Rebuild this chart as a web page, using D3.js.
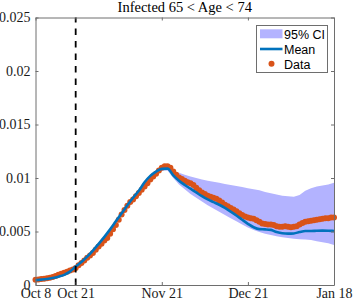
<!DOCTYPE html>
<html>
<head>
<meta charset="utf-8">
<script src="https://cdn.jsdelivr.net/npm/d3@7"></script>
<style>
  body { margin: 0; background: #fff; }
  svg { display: block; }
</style>
</head>
<body>
<script>
// days since Oct 8
const tickDays = [0, 14, 44, 74, 104];
const tickLabels = ['Oct 8', 'Oct 21', 'Nov 21', 'Dec 21', 'Jan 18'];
const yTicks = [0, 0.005, 0.01, 0.015, 0.02, 0.025];
const yTickLabels = ['0', '0.005', '0.01', '0.015', '0.02', '0.025'];
const interventionDay = 14;

// model output, every 2 days
const bandDays = d3.range(0, 105, 2);
const meanVals = [
  0.00045, 0.00050, 0.00056, 0.00065, 0.00078, 0.00095, 0.00125, 0.00172, 0.00215, 0.00265,
  0.00322, 0.00385, 0.00450, 0.00520, 0.00595, 0.00670, 0.00745, 0.00815, 0.00880, 0.00960,
  0.01020, 0.01060, 0.01085, 0.01088, 0.01025, 0.00975, 0.00935, 0.00900, 0.00865, 0.00830,
  0.00800, 0.00775, 0.00750, 0.00720, 0.00685, 0.00650, 0.00610, 0.00572, 0.00540, 0.00522,
  0.00520, 0.00515, 0.00495, 0.00483, 0.00480, 0.00482, 0.00495, 0.00505, 0.00505, 0.00507,
  0.00508, 0.00507, 0.00505
];
const upperVals = [
  0.00055, 0.00060, 0.00066, 0.00075, 0.00088, 0.00105, 0.00135, 0.00182, 0.00225, 0.00275,
  0.00332, 0.00395, 0.00460, 0.00530, 0.00605, 0.00680, 0.00755, 0.00825, 0.00890, 0.00970,
  0.01030, 0.01070, 0.01095, 0.01095, 0.01065, 0.01050, 0.01030, 0.01015, 0.01000, 0.00985,
  0.00975, 0.00965, 0.00955, 0.00945, 0.00935, 0.00925, 0.00915, 0.00905, 0.00895, 0.00885,
  0.00870, 0.00858, 0.00845, 0.00835, 0.00830, 0.00825, 0.00840, 0.00880, 0.00905, 0.00920,
  0.00930, 0.00940, 0.00955
];
const lowerVals = [
  0.00035, 0.00040, 0.00046, 0.00055, 0.00068, 0.00085, 0.00115, 0.00162, 0.00205, 0.00255,
  0.00312, 0.00375, 0.00440, 0.00510, 0.00585, 0.00660, 0.00735, 0.00805, 0.00870, 0.00950,
  0.01010, 0.01035, 0.01070, 0.01070, 0.01000, 0.00940, 0.00895, 0.00850, 0.00815, 0.00780,
  0.00745, 0.00715, 0.00685, 0.00655, 0.00625, 0.00595, 0.00565, 0.00538, 0.00513, 0.00495,
  0.00480, 0.00468, 0.00455, 0.00447, 0.00440, 0.00432, 0.00428, 0.00425, 0.00420, 0.00410,
  0.00400, 0.00390, 0.00375
];

// observed, daily
const dataDays = d3.range(0, 105);
const dataVals = [
  0.00050, 0.00052, 0.00055, 0.00058, 0.00062, 0.00068, 0.00075, 0.00085, 0.00095, 0.00105,
  0.00115, 0.00125, 0.00135, 0.00145, 0.00160, 0.00185, 0.00205, 0.00230, 0.00255, 0.00275,
  0.00300, 0.00330, 0.00360, 0.00385, 0.00415, 0.00440, 0.00480, 0.00520, 0.00560, 0.00610,
  0.00660, 0.00700, 0.00740, 0.00775, 0.00800, 0.00830, 0.00860, 0.00890, 0.00920, 0.00950,
  0.00985, 0.01015, 0.01040, 0.01070, 0.01095, 0.01110, 0.01110, 0.01095, 0.01060, 0.01030,
  0.01005, 0.00990, 0.00975, 0.00960, 0.00950, 0.00935, 0.00910, 0.00885, 0.00865, 0.00850,
  0.00835, 0.00825, 0.00815, 0.00805, 0.00790, 0.00770, 0.00750, 0.00735, 0.00720, 0.00705,
  0.00690, 0.00670, 0.00655, 0.00640, 0.00630, 0.00625, 0.00620, 0.00605, 0.00590, 0.00575,
  0.00570, 0.00565, 0.00565, 0.00560, 0.00550, 0.00545, 0.00545, 0.00548, 0.00545, 0.00540,
  0.00545, 0.00550, 0.00565, 0.00580, 0.00590, 0.00595, 0.00600, 0.00605, 0.00610, 0.00615,
  0.00620, 0.00625, 0.00625, 0.00630, 0.00630
];

const width = 354, height = 303;
const margin = { top: 17.5, right: 20, bottom: 18, left: 35.5 };
const serif = '"Liberation Serif", "DejaVu Serif", serif';
const sans = '"Liberation Sans", Arial, sans-serif';

const svg = d3.select('body').append('svg')
  .attr('width', width)
  .attr('height', height);

const x = d3.scaleLinear()
  .domain([0, 104])
  .range([margin.left, width - margin.right]);
const y = d3.scaleLinear()
  .domain([0, 0.025])
  .range([height - margin.bottom, margin.top]);

const band = bandDays.map((d, i) => ({ d, m: meanVals[i], lo: lowerVals[i], hi: upperVals[i] }));

// CI band
svg.append('path')
  .datum(band)
  .attr('fill', '#b3b3ff')
  .attr('d', d3.area().x(b => x(b.d)).y0(b => y(b.lo)).y1(b => y(b.hi)));

// data
svg.append('g')
  .selectAll('circle')
  .data(dataDays)
  .enter()
  .append('circle')
  .attr('cx', d => x(d))
  .attr('cy', (d, i) => y(dataVals[i]))
  .attr('r', 3)
  .attr('fill', '#D95319');

// mean
svg.append('path')
  .datum(band)
  .attr('fill', 'none')
  .attr('stroke', '#0072BD')
  .attr('stroke-width', 2.6)
  .attr('stroke-linejoin', 'round')
  .attr('d', d3.line().x(b => x(b.d)).y(b => y(b.m)).curve(d3.curveMonotoneX));

// vertical dashed line
svg.append('line')
  .attr('x1', x(interventionDay)).attr('x2', x(interventionDay))
  .attr('y1', y(0)).attr('y2', y(0.025))
  .attr('stroke', '#000')
  .attr('stroke-width', 1.8)
  .attr('stroke-dasharray', '6.5,6');

// axes
const xAxis = d3.axisBottom(x).tickValues(tickDays)
  .tickFormat((d, i) => tickLabels[i]).tickSizeInner(-3).tickSizeOuter(0).tickPadding(3);
const yAxis = d3.axisLeft(y).tickValues(yTicks)
  .tickFormat((d, i) => yTickLabels[i]).tickSizeInner(-3).tickSizeOuter(0).tickPadding(5);

const gx = svg.append('g').attr('transform', `translate(0,${y(0)})`).call(xAxis);
const gy = svg.append('g').attr('transform', `translate(${x(0)},0)`).call(yAxis);
svg.append('g').attr('transform', `translate(0,${y(0.025)})`)
  .call(d3.axisTop(x).tickValues(tickDays).tickFormat('').tickSizeInner(-3).tickSizeOuter(0));
svg.append('g').attr('transform', `translate(${x(104)},0)`)
  .call(d3.axisRight(y).tickValues(yTicks).tickFormat('').tickSizeInner(-3).tickSizeOuter(0));

svg.selectAll('.domain').attr('stroke', '#6e6e6e');
svg.selectAll('.tick line').attr('stroke', '#6e6e6e');
svg.selectAll('.tick text')
  .attr('fill', '#1a1a1a')
  .style('font-family', serif)
  .style('font-size', '14px');
gx.selectAll('.tick text').attr('dy', '0.71em');

// title
svg.append('text')
  .attr('x', (x(0) + x(104)) / 2)
  .attr('y', 12)
  .attr('text-anchor', 'middle')
  .style('font-family', serif)
  .style('font-size', '14.5px')
  .attr('fill', '#000')
  .text('Infected 65 < Age < 74');

// legend
const lg = svg.append('g').attr('transform', 'translate(256.5,25.5)');
lg.append('rect')
  .attr('width', 71).attr('height', 47)
  .attr('fill', '#fff')
  .attr('stroke', '#6e6e6e')
  .attr('stroke-width', 1);
lg.append('rect')
  .attr('x', 3.5).attr('y', 3.8).attr('width', 22.5).attr('height', 9)
  .attr('fill', '#b3b3ff');
lg.append('line')
  .attr('x1', 3.5).attr('x2', 26).attr('y1', 23.5).attr('y2', 23.5)
  .attr('stroke', '#0072BD').attr('stroke-width', 2.6);
lg.append('circle')
  .attr('cx', 15).attr('cy', 38.2).attr('r', 3)
  .attr('fill', '#D95319');
const legendLabels = ['95% CI', 'Mean', 'Data'];
lg.selectAll('.lt')
  .data(legendLabels)
  .enter()
  .append('text')
  .attr('x', 27.5)
  .attr('y', (d, i) => 13 + i * 15)
  .style('font-family', sans)
  .style('font-size', '12.5px')
  .attr('fill', '#000')
  .text(d => d);
</script>
</body>
</html>
